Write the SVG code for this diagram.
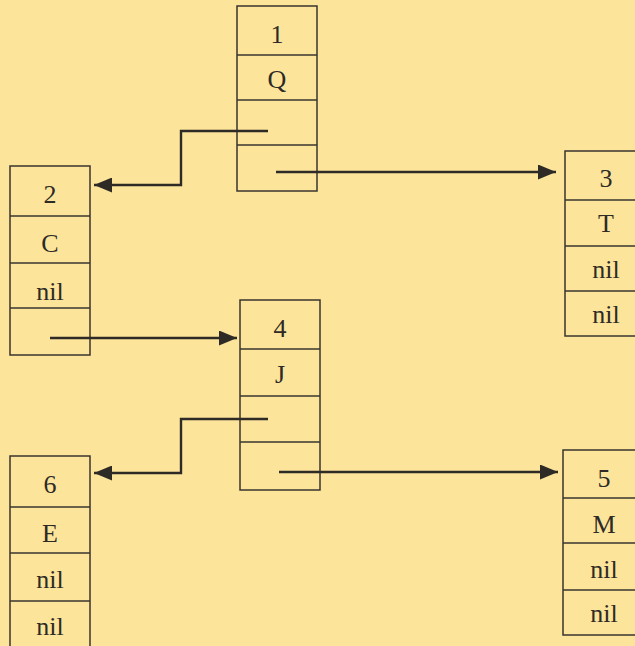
<svg xmlns="http://www.w3.org/2000/svg" width="635" height="646" viewBox="0 0 635 646">
<defs>
<style>
.box{fill:none;stroke:#3a3530;stroke-width:1.5}
.t{font-family:"Liberation Serif","Times New Roman",serif;font-size:26px;fill:#2e2a25;text-anchor:middle}
.c{fill:none;stroke:#2e2a25;stroke-width:2.4}
</style>
<marker id="ah" viewBox="0 0 18 15" refX="18" refY="7.5" markerWidth="18" markerHeight="15" markerUnits="userSpaceOnUse" orient="auto">
<path d="M0,0 L18,7.5 L0,15 z" fill="#2e2a25"/>
</marker>
</defs>
<rect x="0" y="0" width="635" height="646" fill="#fce59b"/>
<g id="node1">
<rect class="box" x="237" y="6" width="80" height="185"/>
<line class="box" x1="237" y1="55" x2="317" y2="55"/>
<line class="box" x1="237" y1="100" x2="317" y2="100"/>
<line class="box" x1="237" y1="145" x2="317" y2="145"/>
<text class="t" x="277" y="43">1</text>
<text class="t" x="277" y="88">Q</text>
</g>
<g id="node2">
<rect class="box" x="10" y="166" width="80" height="189"/>
<line class="box" x1="10" y1="216" x2="90" y2="216"/>
<line class="box" x1="10" y1="263" x2="90" y2="263"/>
<line class="box" x1="10" y1="308" x2="90" y2="308"/>
<text class="t" x="50" y="203">2</text>
<text class="t" x="50" y="252">C</text>
<text class="t" x="50" y="300">nil</text>
</g>
<g id="node3">
<rect class="box" x="565" y="151" width="80" height="185"/>
<line class="box" x1="565" y1="200" x2="645" y2="200"/>
<line class="box" x1="565" y1="246" x2="645" y2="246"/>
<line class="box" x1="565" y1="291" x2="645" y2="291"/>
<text class="t" x="606" y="187">3</text>
<text class="t" x="606" y="232">T</text>
<text class="t" x="606" y="278">nil</text>
<text class="t" x="606" y="323">nil</text>
</g>
<g id="node4">
<rect class="box" x="240" y="300" width="80" height="190"/>
<line class="box" x1="240" y1="349" x2="320" y2="349"/>
<line class="box" x1="240" y1="396" x2="320" y2="396"/>
<line class="box" x1="240" y1="442" x2="320" y2="442"/>
<text class="t" x="280" y="337">4</text>
<text class="t" x="280" y="383">J</text>
</g>
<g id="node6">
<rect class="box" x="10" y="456" width="80" height="200"/>
<line class="box" x1="10" y1="507" x2="90" y2="507"/>
<line class="box" x1="10" y1="553" x2="90" y2="553"/>
<line class="box" x1="10" y1="601" x2="90" y2="601"/>
<text class="t" x="50" y="493">6</text>
<text class="t" x="50" y="542">E</text>
<text class="t" x="50" y="588">nil</text>
<text class="t" x="50" y="635">nil</text>
</g>
<g id="node5">
<rect class="box" x="563" y="450" width="80" height="185"/>
<line class="box" x1="563" y1="498" x2="643" y2="498"/>
<line class="box" x1="563" y1="543" x2="643" y2="543"/>
<line class="box" x1="563" y1="590" x2="643" y2="590"/>
<text class="t" x="604" y="487">5</text>
<text class="t" x="604" y="533">M</text>
<text class="t" x="604" y="578">nil</text>
<text class="t" x="604" y="622">nil</text>
</g>
<g id="connectors">
<polyline class="c" points="268,131 181,131 181,185 94,185" marker-end="url(#ah)"/>
<line class="c" x1="276" y1="172" x2="556" y2="172" marker-end="url(#ah)"/>
<line class="c" x1="50" y1="338" x2="237" y2="338" marker-end="url(#ah)"/>
<polyline class="c" points="268,419 181,419 181,473 94,473" marker-end="url(#ah)"/>
<line class="c" x1="279" y1="472" x2="558" y2="472" marker-end="url(#ah)"/>
</g>
</svg>
